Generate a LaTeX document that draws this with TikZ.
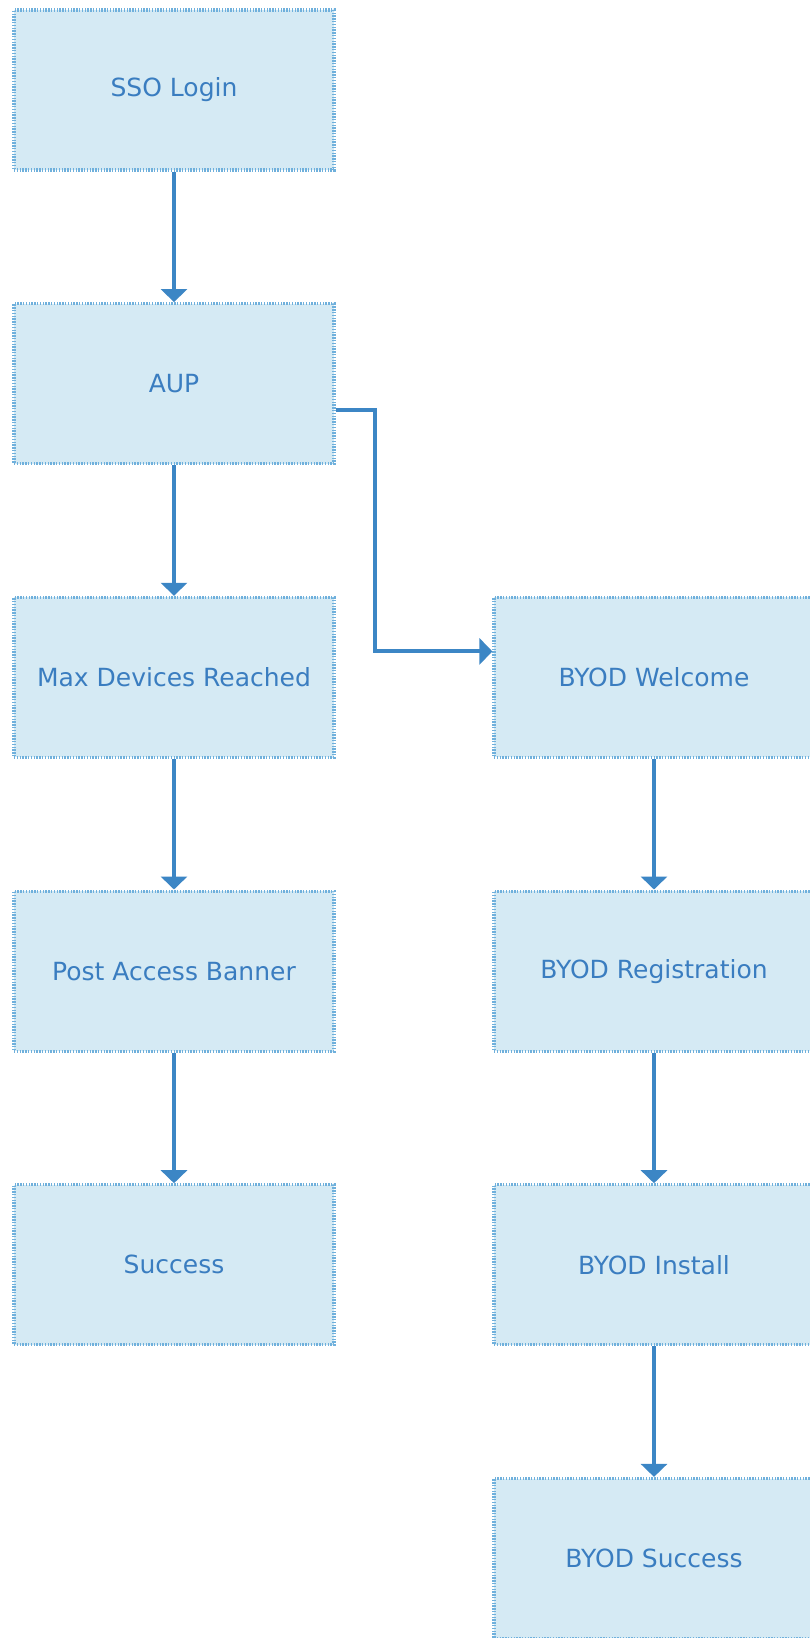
\documentclass[tikz,border=0pt]{standalone}
\usepackage{fontspec}
\setmainfont{DejaVu Sans}
\usetikzlibrary{arrows.meta}
\definecolor{boxfill}{HTML}{D5EAF4}
\definecolor{boxline}{HTML}{6FB0DC}
\definecolor{boxtext}{HTML}{3A7DC0}
\definecolor{flowline}{HTML}{3C86C5}

\begin{document}
\begin{tikzpicture}[x=480pt, y=-293.7pt]
            \tikzstyle{screen}=[fill=boxfill,draw=boxline,line width=3.2pt,dash pattern=on 1.4pt off 1.4pt,minimum width=320pt,minimum height=160pt,text=boxtext,font=\fontsize{25}{30}\selectfont]
            \tikzstyle{flow}=[draw=flowline,line width=4pt,-{Triangle[length=13pt,width=26pt]}]
            \useasboundingbox (-174pt,90pt) rectangle (636pt,-1548pt);

            \node[screen] (sso)     at (0,0)  {SSO Login};
            \node[screen] (aup)     at (0,1)  {AUP};
            \node[screen] (maxdev)  at (0,2)  {Max Devices Reached};
            \node[screen] (banner)  at (0,3)  {Post Access Banner};
            \node[screen] (success) at (0,4)  {Success};

            \node[screen] (welcome) at (1,2)  {BYOD Welcome};
            \node[screen] (reg)     at (1,3)  {BYOD Registration};
            \node[screen] (install) at (1,4)  {BYOD Install};
            \node[screen] (byodok)  at (1,5)  {BYOD Success};

            \draw[flow] (sso) -- (aup);
            \draw[flow] (aup) -- (maxdev);
            \draw[flow] (maxdev) -- (banner);
            \draw[flow] (banner) -- (success);
            \draw[flow] ([yshift=-26pt]aup.east) -- ++(39pt,0) |- ([yshift=26pt]welcome.west);
            \draw[flow] (welcome) -- (reg);
            \draw[flow] (reg) -- (install);
            \draw[flow] (install) -- (byodok);

        \end{tikzpicture}
\end{document}
